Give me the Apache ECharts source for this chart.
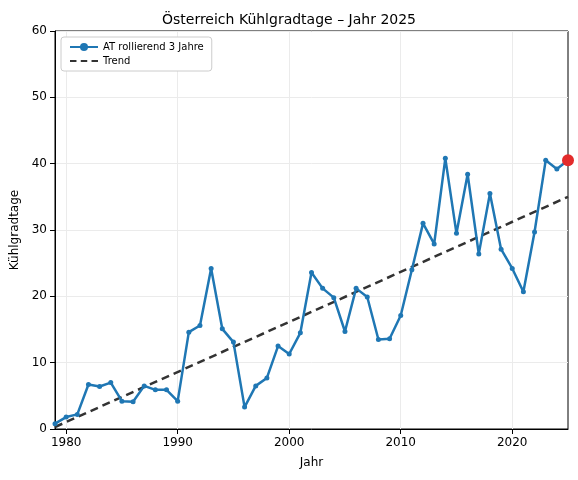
<!DOCTYPE html>
<html><head><meta charset="utf-8">
<script src="https://cdn.jsdelivr.net/npm/echarts@6/dist/echarts.min.js"></script>
<style>html,body{margin:0;padding:0;background:#fff}#c{width:578px;height:480px}</style>
</head><body><div id="c"></div>
<script>
var years = [];
for (var y = 1979; y <= 2025; y++) years.push(y);
var values = [0.8,1.8,2.2,6.7,6.4,7.0,4.2,4.1,6.5,5.9,5.9,4.2,14.6,15.6,24.2,15.1,13.1,3.3,6.5,7.7,
  12.5,11.3,14.5,23.6,21.2,19.8,14.7,21.2,19.9,13.5,13.6,17.1,24.0,31.0,27.9,40.8,29.5,38.4,26.4,35.5,
  27.1,24.2,20.7,29.7,40.5,39.2,40.5];
var trendEnds = [[1979, 0.3], [2025, 35.0]];
var lastPoint = [2025, 40.5];
var xTicks = [1980, 1990, 2000, 2010, 2020];

var myChart = echarts.init(document.getElementById('c'));
var font = 'DejaVu Sans';
myChart.setOption({
  animation: false,
  textStyle: { fontFamily: font },
  title: { text: 'Österreich Kühlgradtage – Jahr 2025', left: 'center', top: 8,
    textStyle: { fontSize: 14, fontWeight: 'normal', color: '#000', fontFamily: font } },
  grid: { left: 55, right: 10, top: 31, bottom: 51, show: true, borderColor: '#000', borderWidth: 1 },
  legend: {
    left: 61, top: 37, orient: 'vertical', itemGap: 4,
    backgroundColor: '#fff', borderColor: '#ccc', borderWidth: 1, borderRadius: 3, padding: [5, 8],
    textStyle: { fontSize: 10, color: '#000' }, itemWidth: 28, itemHeight: 10,
    data: [{ name: 'AT rollierend 3 Jahre' }, { name: 'Trend', icon: 'path://M0,0h6v2h-6zM10,0h6v2h-6zM20,0h6v2h-6z' }]
  },
  xAxis: {
    type: 'value', min: 1979, max: 2025,
    name: 'Jahr', nameLocation: 'middle', nameGap: 28, nameTextStyle: { fontSize: 12, color: '#000' },
    axisLine: { onZero: false, lineStyle: { color: '#000' } },
    axisTick: { show: true, customValues: xTicks, lineStyle: { color: '#000' } },
    axisLabel: { color: '#000', fontSize: 12, customValues: xTicks,
      formatter: function (v) { return String(v); } },
    splitLine: { show: true, lineStyle: { color: '#ebebeb' } }
  },
  yAxis: {
    type: 'value', min: 0, max: 60, interval: 10,
    name: 'Kühlgradtage', nameLocation: 'middle', nameGap: 32, nameTextStyle: { fontSize: 12, color: '#000' },
    axisLine: { show: true, lineStyle: { color: '#000' } },
    axisTick: { show: true, lineStyle: { color: '#000' } },
    axisLabel: { color: '#000', fontSize: 12 },
    splitLine: { show: true, lineStyle: { color: '#ebebeb' } }
  },
  series: [
    { name: 'AT rollierend 3 Jahre', type: 'line', data: years.map(function (y, i) { return [y, values[i]]; }),
      symbol: 'circle', symbolSize: 5, color: '#1f77b4', lineStyle: { width: 2.5 }, z: 3 },
    { name: 'Trend', type: 'line', data: trendEnds, symbol: 'none', color: '#333',
      lineStyle: { width: 2.5, type: [8, 5], color: '#333' }, z: 2 },
    { type: 'scatter', data: [lastPoint], symbolSize: 12, itemStyle: { color: '#e32b2b', opacity: 1 }, z: 4 }
  ]
});
</script></body></html>
